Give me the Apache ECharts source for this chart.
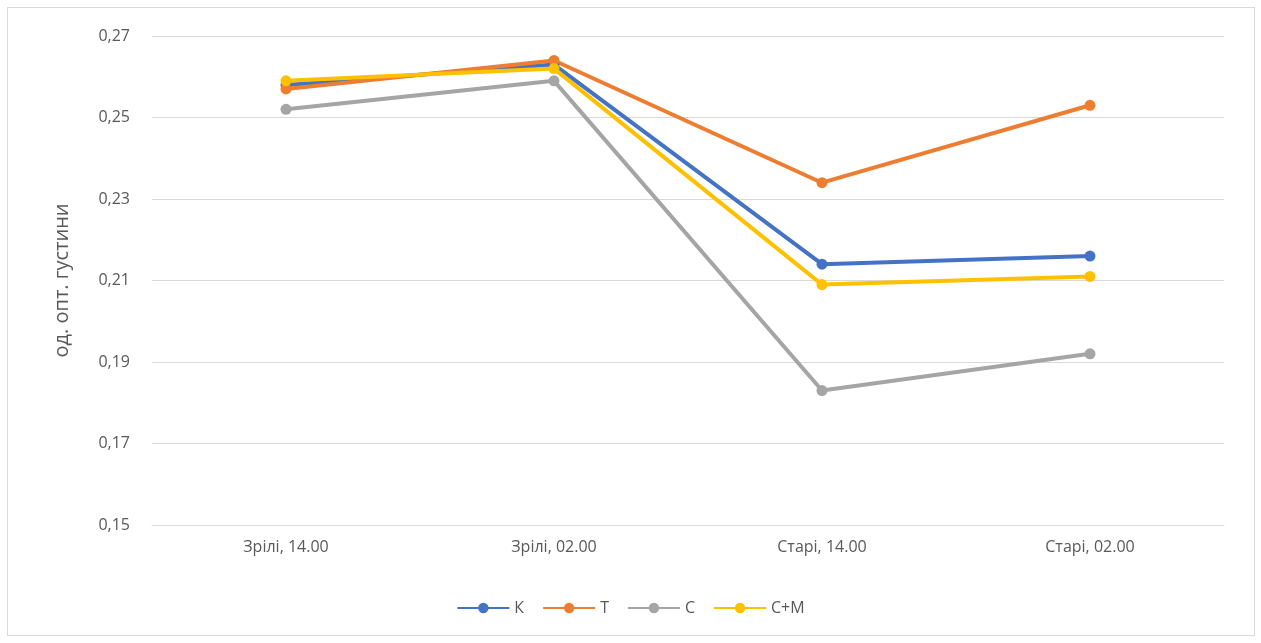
<!DOCTYPE html>
<html><head><meta charset="utf-8">
<script src="https://cdn.jsdelivr.net/npm/echarts@6/dist/echarts.min.js"></script>
<style>
html,body{margin:0;padding:0;background:#fff;}
#frame{position:absolute;left:7px;top:7px;width:1246px;height:627px;border:1px solid #d9d9d9;}
#c{position:absolute;left:0;top:0;width:1261px;height:643px;}
</style></head>
<body><div id="frame"></div><div id="c"></div>
<script>
const categories = ['Зрілі, 14.00', 'Зрілі, 02.00', 'Старі, 14.00', 'Старі, 02.00'];
const seriesNames = ['К', 'Т', 'С', 'С+М'];
const valuesK = [0.258, 0.263, 0.214, 0.216];
const valuesT = [0.257, 0.264, 0.234, 0.253];
const valuesC = [0.252, 0.259, 0.183, 0.192];
const valuesCM = [0.259, 0.262, 0.209, 0.211];
const yTicks = { min: 0.15, max: 0.27, interval: 0.02 };
const yTitle = 'од. опт. густини';

const colors = ['#4472C4', '#ED7D31', '#A5A5A5', '#FFC000'];
const allValues = [valuesK, valuesT, valuesC, valuesCM];
const font = 'Open Sans';
const chart = echarts.init(document.getElementById('c'));
chart.setOption({
  animation: false,
  color: colors,
  grid: { left: 152, right: 37, top: 36, bottom: 118 },
  legend: {
    bottom: 22, left: 'center', itemWidth: 52, itemHeight: 13, itemGap: 18,
    textStyle: { color: '#595959', fontSize: 16, fontFamily: font },
    data: seriesNames
  },
  xAxis: {
    type: 'category', data: categories, boundaryGap: true,
    axisLine: { lineStyle: { color: '#d9d9d9' } },
    axisTick: { show: false },
    axisLabel: { color: '#595959', fontSize: 16, fontFamily: font, margin: 14 }
  },
  yAxis: {
    type: 'value', min: yTicks.min, max: yTicks.max, interval: yTicks.interval,
    name: yTitle, nameLocation: 'middle', nameGap: 80, nameRotate: 90,
    nameTextStyle: { color: '#595959', fontSize: 20, fontFamily: font },
    axisLine: { show: false }, axisTick: { show: false },
    axisLabel: { color: '#595959', fontSize: 16, fontFamily: font, margin: 22,
      formatter: v => v.toFixed(2).replace('.', ',') },
    splitLine: { lineStyle: { color: '#d9d9d9', width: 1 } }
  },
  series: seriesNames.map((n, i) => ({
    name: n, type: 'line', data: allValues[i],
    symbol: 'circle', symbolSize: 11,
    lineStyle: { width: 4, color: colors[i] },
    itemStyle: { color: colors[i] }
  }))
});
</script></body></html>
